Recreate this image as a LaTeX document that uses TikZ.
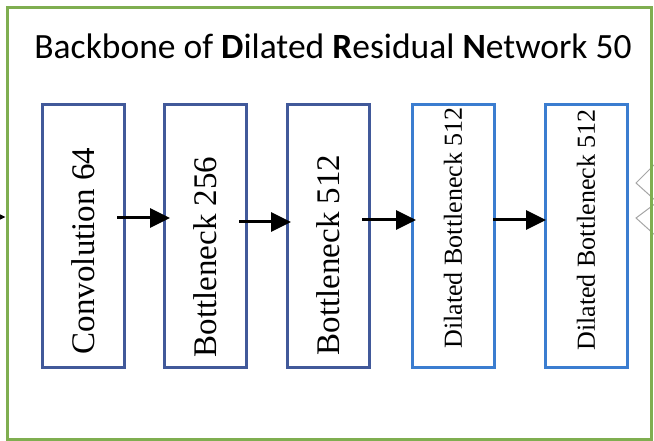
\documentclass[tikz,border=0pt]{standalone}
\usepackage{fontspec}
\setmainfont{Liberation Serif}
\newfontfamily\titlefont{Carlito}
\usetikzlibrary{arrows.meta,positioning}

\definecolor{framegreen}{HTML}{7FAE50}
\definecolor{convblue}{HTML}{41599A}
\definecolor{dilblue}{HTML}{3B7DD0}

\begin{document}
\begin{tikzpicture}[
  x=1pt, y=-1pt,
  node distance=40pt,
  block/.style={draw=convblue, line width=3pt, minimum width=82pt, minimum height=262pt, inner sep=0pt, outer sep=0pt},
  dblock/.style={block, draw=dilblue},
  lbl/.style={rotate=90, inner sep=0pt, font=\fontsize{33}{36}\selectfont},
  dlbl/.style={lbl, font=\fontsize{26}{28}\selectfont},
  arrow/.style={-{Triangle[length=20pt,width=19pt]}, line width=3pt}
]
\clip (0,0) rectangle (654,441);

% Outer frame and the cut-off shapes at its right side
\draw[gray!70, line width=1pt] (656,163) -- (636,183) -- (656,201);
\draw[gray!70, line width=1pt] (656,203) -- (636,218) -- (656,236);
\node[draw=framegreen, line width=3pt, minimum width=644pt, minimum height=431pt] (frame) at (329,223.5) {};
\node[font=\titlefont\fontsize{35.5}{38}\selectfont] (title) at (333,46)
  {Backbone of \textbf{D}ilated \textbf{R}esidual \textbf{N}etwork 50};

% Blocks
\node[block] (conv) at (83,236) {};
\node[block, right=of conv] (bneck1) {};
\node[block, right=41pt of bneck1] (bneck2) {};
\node[dblock, right=43pt of bneck2] (dil1) {};
\node[dblock, right=51pt of dil1] (dil2) {};

% Labels
\node[lbl] (conv-t) at ([yshift=-15pt]conv.center) {Convolution 64};
\node[lbl] (bneck1-t) at ([yshift=-21pt]bneck1.center) {Bottleneck 256};
\node[lbl] (bneck2-t) at ([yshift=-19pt]bneck2.center) {Bottleneck 512};
\node[dlbl] (dil1-t) at ([yshift=8pt]dil1.center) {Dilated Bottleneck 512};
\node[dlbl] (dil2-t) at ([yshift=6pt]dil2.center) {Dilated Bottleneck 512};

% Arrows
\coordinate (in) at (-20,217);
\draw[arrow] (in) -- ([yshift=6.5pt]frame.west);
\draw[arrow, shorten <=-7pt, shorten >=-6pt] ([yshift=18pt]conv.east) -- ([yshift=18pt]bneck1.west);
\draw[arrow, shorten <=-7pt, shorten >=-4pt] ([yshift=14pt]bneck1.east) -- ([yshift=14pt]bneck2.west);
\draw[arrow, shorten <=-7pt, shorten >=-4pt] ([yshift=16pt]bneck2.east) -- ([yshift=16pt]dil1.west);
\draw[arrow, shorten <=-1pt, shorten >=-1pt] ([yshift=16pt]dil1.east) -- ([yshift=16pt]dil2.west);

\end{tikzpicture}
\end{document}
